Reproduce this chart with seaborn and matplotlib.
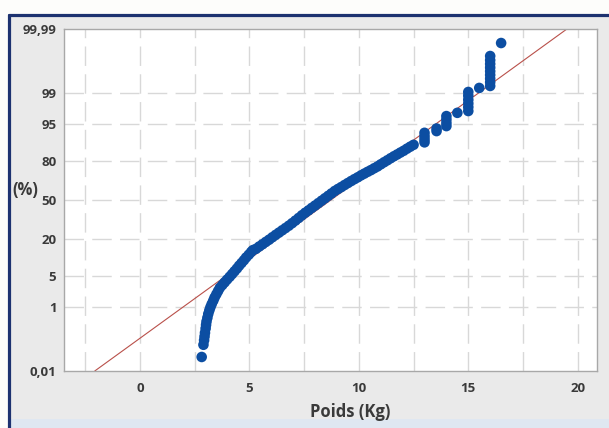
import numpy as np
import matplotlib
matplotlib.use("Agg")
import matplotlib.pyplot as plt
from matplotlib.patches import Rectangle
from matplotlib.lines import Line2D
from matplotlib.ticker import NullLocator
import seaborn as sns
from statistics import NormalDist

# ---- data (weights in kg, cumulative percentage) ----
poids = [2.82, 2.90, 2.93, 2.95, 2.97, 3.00, 3.02, 3.04, 3.08, 3.12, 3.17, 3.22,
         3.28, 3.35, 3.41, 3.49, 3.57, 3.65, 3.76, 3.87, 3.98, 4.10, 4.21, 4.32,
         4.43, 4.53, 4.64, 4.75, 4.85, 4.97, 5.08, 5.16,
         5.30, 5.45, 5.60, 5.75, 5.90, 6.05, 6.20, 6.35, 6.50, 6.65, 6.80, 6.95,
         7.10, 7.25, 7.40, 7.55, 7.70, 7.85, 8.00, 8.15, 8.30, 8.45, 8.60, 8.75,
         8.90, 9.05, 9.20, 9.35, 9.50, 9.65, 9.80, 9.95, 10.10, 10.25, 10.40, 10.55,
         10.70, 10.85, 11.00, 11.15, 11.30, 11.45, 11.60, 11.75, 11.90, 12.05, 12.20,
         12.35, 12.50,
         13.0, 13.0, 13.0, 13.0, 13.55, 13.55, 14.0, 14.0, 14.0, 14.0, 14.5,
         15.0, 15.0, 15.0, 15.0, 15.0, 15.0, 15.5,
         16.0, 16.0, 16.0, 16.0, 16.0, 16.0, 16.0, 16.0, 16.0, 16.5]
pourcentage = [0.032, 0.082, 0.114, 0.149, 0.193, 0.26, 0.33, 0.41, 0.52, 0.66, 0.82, 0.99,
               1.19, 1.43, 1.70, 2.02, 2.39, 2.81, 3.22, 3.67, 4.18, 4.75, 5.37, 6.06,
               6.81, 7.64, 8.53, 9.51, 10.56, 11.70, 12.92, 13.79,
               14.4, 15.6, 16.8, 18.1, 19.4, 20.9, 22.4, 23.9, 25.5, 27.1, 28.8, 30.7,
               32.7, 34.8, 37.0, 39.1, 41.1, 43.2, 45.2, 47.3, 49.4, 51.5, 53.6, 55.7,
               57.8, 59.5, 61.1, 62.8, 64.4, 66.0, 67.5, 68.9, 70.4, 71.7, 73.0, 74.2,
               75.5, 76.7, 78.1, 79.4, 80.6, 81.8, 82.9, 83.9, 84.9, 85.8, 86.8,
               87.7, 88.5,
               89.5, 90.6, 91.7, 92.8, 93.3, 94.0, 94.6, 95.3, 96.0, 96.6, 97.1,
               97.35, 97.83, 98.21, 98.54, 98.84, 99.06, 99.26,
               99.343, 99.477, 99.585, 99.674, 99.744, 99.801, 99.846, 99.882, 99.913, 99.968]

# fitted normal distribution (red reference line)
moyenne = 8.72
ecart_type = 2.90

x_ticks = [0, 5, 10, 15, 20]
y_ticks = [0.01, 1, 5, 20, 50, 80, 95, 99, 99.99]
y_tick_labels = ["0,01", "1", "5", "20", "50", "80", "95", "99", "99,99"]
y_grid = [1, 5, 20, 50, 80, 95, 99]
x_grid = [-2.5, 0, 2.5, 5, 7.5, 10, 12.5, 15, 17.5, 20]

# ---- style ----
sns.set_style("white")
plt.rcParams["font.family"] = ["Open Sans", "DejaVu Sans"]

W, H = 609, 428
fig = plt.figure(figsize=(W / 100, H / 100), dpi=100)
fig.patch.set_facecolor("#fdfdfb")

# outer panel (gray) with navy border top/left and light blue strip at bottom
fig.add_artist(Rectangle((8 / W, 9 / H), 1 - 8 / W, (414 - 9) / H,
                         transform=fig.transFigure, facecolor="#eaeaea",
                         edgecolor="none", zorder=0))
fig.add_artist(Rectangle((8 / W, 0), 1 - 8 / W, 9 / H,
                         transform=fig.transFigure, facecolor="#dfe7f1",
                         edgecolor="none", zorder=0))
fig.add_artist(Line2D([8.5 / W, 1], [1 - 14.5 / H, 1 - 14.5 / H],
                      transform=fig.transFigure, color="#1d3270", lw=2.3, zorder=1))
fig.add_artist(Line2D([8.5 / W, 8.5 / W], [0, 1 - 14.5 / H],
                      transform=fig.transFigure, color="#1d3270", lw=2.3, zorder=1))

ax = fig.add_axes([64 / W, 1 - 371 / H, (597 - 64) / W, (371 - 29) / H])
ax.set_facecolor("white")

nd = NormalDist()
_fwd = np.vectorize(lambda v: nd.inv_cdf(v / 100.0), otypes=[float])
_inv = np.vectorize(lambda v: nd.cdf(v) * 100.0, otypes=[float])


def fwd(p):
    p = np.clip(np.asarray(p, dtype=float), 1e-7, 100 - 1e-7)
    return _fwd(p)


def inv(z):
    z = np.asarray(z, dtype=float)
    return _inv(z)


# grid
grid_kw = dict(color="#d8d8d8", lw=1.0, linestyle=(0, (14, 6)), zorder=0.5)
for gx in x_grid:
    ax.axvline(gx, **grid_kw)

sns.scatterplot(x=poids, y=pourcentage, ax=ax, color="#0c4ea2", s=58,
                linewidth=0, edgecolor="none", zorder=3, legend=False)

ax.set_yscale("function", functions=(fwd, inv))
for gy in y_grid:
    ax.axhline(gy, **grid_kw)

# fitted line
fit = NormalDist(moyenne, ecart_type)
p_line = [y_ticks[0], y_ticks[-1]]
x_line = [fit.inv_cdf(p / 100.0) for p in p_line]
ax.plot(x_line, p_line, color="#b9504a", lw=0.8, zorder=2.5)

ax.set_xlim(-3.47, 20.88)
ax.set_ylim(0.01, 99.99)
ax.set_xticks(x_ticks)
ax.set_xticklabels([str(t) for t in x_ticks])
ax.set_yticks(y_ticks)
ax.set_yticklabels(y_tick_labels)
ax.yaxis.set_minor_locator(NullLocator())
ax.xaxis.set_minor_locator(NullLocator())

for sp in ax.spines.values():
    sp.set_color("#a8a8a8")
    sp.set_linewidth(1.0)

ax.tick_params(axis="both", which="major", length=3, width=0.8, color="#a8a8a8",
               labelsize=9.5, labelcolor="#3a3a3a", direction="out")
ax.tick_params(axis="x", pad=5)
ax.tick_params(axis="y", pad=2.5)
for lab in ax.get_xticklabels() + ax.get_yticklabels():
    lab.set_fontweight("bold")

ax.set_xlabel("Poids (Kg)", fontsize=12, fontweight="bold", color="#3a3a3a")
ax.xaxis.set_label_coords((350 - 64) / (597 - 64), -(412 - 371) / (371 - 29))
ax.xaxis.label.set_va("center")
ax.set_ylabel("")

fig.text(25 / W, 1 - 190 / H, "(%)", fontsize=12, fontweight="bold",
         color="#3a3a3a", ha="center", va="center")

fig.savefig("out.png", dpi=100, facecolor=fig.get_facecolor())
